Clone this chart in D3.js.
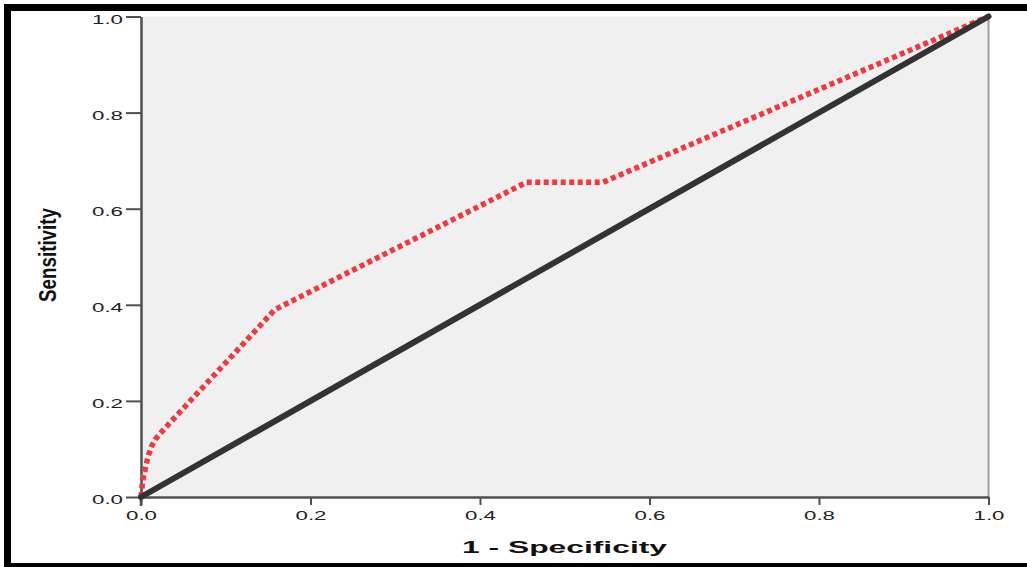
<!DOCTYPE html>
<html>
<head>
<meta charset="utf-8">
<script src="https://cdn.jsdelivr.net/npm/d3@7"></script>
<style>
  html, body { margin: 0; padding: 0; background: #fff; }
  svg { display: block; font-family: "Liberation Sans", Arial, sans-serif; }
</style>
</head>
<body>
<div id="chart"></div>
<script>
// ROC curve points (1 - specificity, sensitivity)
const rocFpr = [0, 0.002, 0.005, 0.008, 0.012, 0.017, 0.024, 0.158, 0.455, 0.545, 1];
const rocTpr = [0, 0.035, 0.058, 0.082, 0.104, 0.12, 0.135, 0.39, 0.655, 0.655, 1];
// reference line
const refFpr = [0, 1];
const refTpr = [0, 1];

const xTicks = [0, 0.2, 0.4, 0.6, 0.8, 1.0];
const yTicks = [0, 0.2, 0.4, 0.6, 0.8, 1.0];

const width = 1027;
const height = 567;

const svg = d3.select('#chart')
  .append('svg')
  .attr('width', width)
  .attr('height', height);

const plot = { left: 141, right: 988.5, top: 16.5, bottom: 497 };

const xScale = d3.scaleLinear().domain([0, 1]).range([plot.left, plot.right]);
const yScale = d3.scaleLinear().domain([0, 1]).range([plot.bottom, plot.top]);

// plot background
svg.append('rect')
  .attr('x', plot.left)
  .attr('y', plot.top)
  .attr('width', plot.right - plot.left)
  .attr('height', plot.bottom - plot.top)
  .attr('fill', '#f0f0f0');

// right edge of frame
svg.append('line')
  .attr('x1', plot.right).attr('x2', plot.right)
  .attr('y1', plot.top).attr('y2', plot.bottom)
  .attr('stroke', '#a0a0a0')
  .attr('stroke-width', 2);

// axes
const xAxis = d3.axisBottom(xScale)
  .tickValues(xTicks)
  .tickFormat(d3.format('.1f'))
  .tickSize(8)
  .tickSizeOuter(0)
  .tickPadding(6);

const yAxis = d3.axisLeft(yScale)
  .tickValues(yTicks)
  .tickFormat(d3.format('.1f'))
  .tickSize(15)
  .tickSizeOuter(0)
  .tickPadding(3);

const gx = svg.append('g')
  .attr('transform', `translate(0, ${plot.bottom})`)
  .call(xAxis);

const gy = svg.append('g')
  .attr('transform', `translate(${plot.left}, 0)`)
  .call(yAxis);

[gx, gy].forEach(g => {
  g.select('.domain').attr('stroke', '#505050').attr('stroke-width', 2.5);
  g.selectAll('.tick line').attr('stroke', '#505050').attr('stroke-width', 2);
  g.selectAll('.tick text')
    .attr('fill', '#222')
    .style('font-size', '12.5px')
    .attr('textLength', 31)
    .attr('lengthAdjust', 'spacingAndGlyphs');
});
gx.selectAll('.tick text').attr('dy', '0.72em');
gy.selectAll('.tick text').attr('dy', '0.52em');

// y axis line runs down past the x axis
svg.append('line')
  .attr('x1', plot.left).attr('x2', plot.left)
  .attr('y1', plot.bottom).attr('y2', plot.bottom + 9)
  .attr('stroke', '#505050')
  .attr('stroke-width', 2.5);

const line = d3.line()
  .x(d => xScale(d[0]))
  .y(d => yScale(d[1]));

// ROC curve (red dotted)
svg.append('path')
  .datum(rocFpr.map((v, i) => [v, rocTpr[i]]))
  .attr('d', line)
  .attr('fill', 'none')
  .attr('stroke', '#f4363f')
  .attr('stroke-width', 5.5)
  .attr('stroke-dasharray', '5,3.5');

// reference diagonal
svg.append('path')
  .datum(refFpr.map((v, i) => [v, refTpr[i]]))
  .attr('d', line)
  .attr('fill', 'none')
  .attr('stroke', '#333333')
  .attr('stroke-width', 6)
  .attr('stroke-linecap', 'round');

// axis titles
svg.append('text')
  .attr('x', 564.5)
  .attr('y', 553)
  .attr('text-anchor', 'middle')
  .attr('font-weight', 'bold')
  .style('font-size', '16.5px')
  .attr('fill', '#111')
  .attr('textLength', 205)
  .attr('lengthAdjust', 'spacingAndGlyphs')
  .text('1 - Specificity');

svg.append('text')
  .attr('transform', 'translate(56, 255) rotate(-90)')
  .attr('text-anchor', 'middle')
  .attr('font-weight', 'bold')
  .style('font-size', '23px')
  .attr('fill', '#111')
  .attr('textLength', 94)
  .attr('lengthAdjust', 'spacingAndGlyphs')
  .text('Sensitivity');

// outer black frame
svg.append('rect')
  .attr('x', 7.5)
  .attr('y', 7.5)
  .attr('width', 1040)
  .attr('height', 559)
  .attr('fill', 'none')
  .attr('stroke', '#000')
  .attr('stroke-width', 7);
</script>
</body>
</html>
